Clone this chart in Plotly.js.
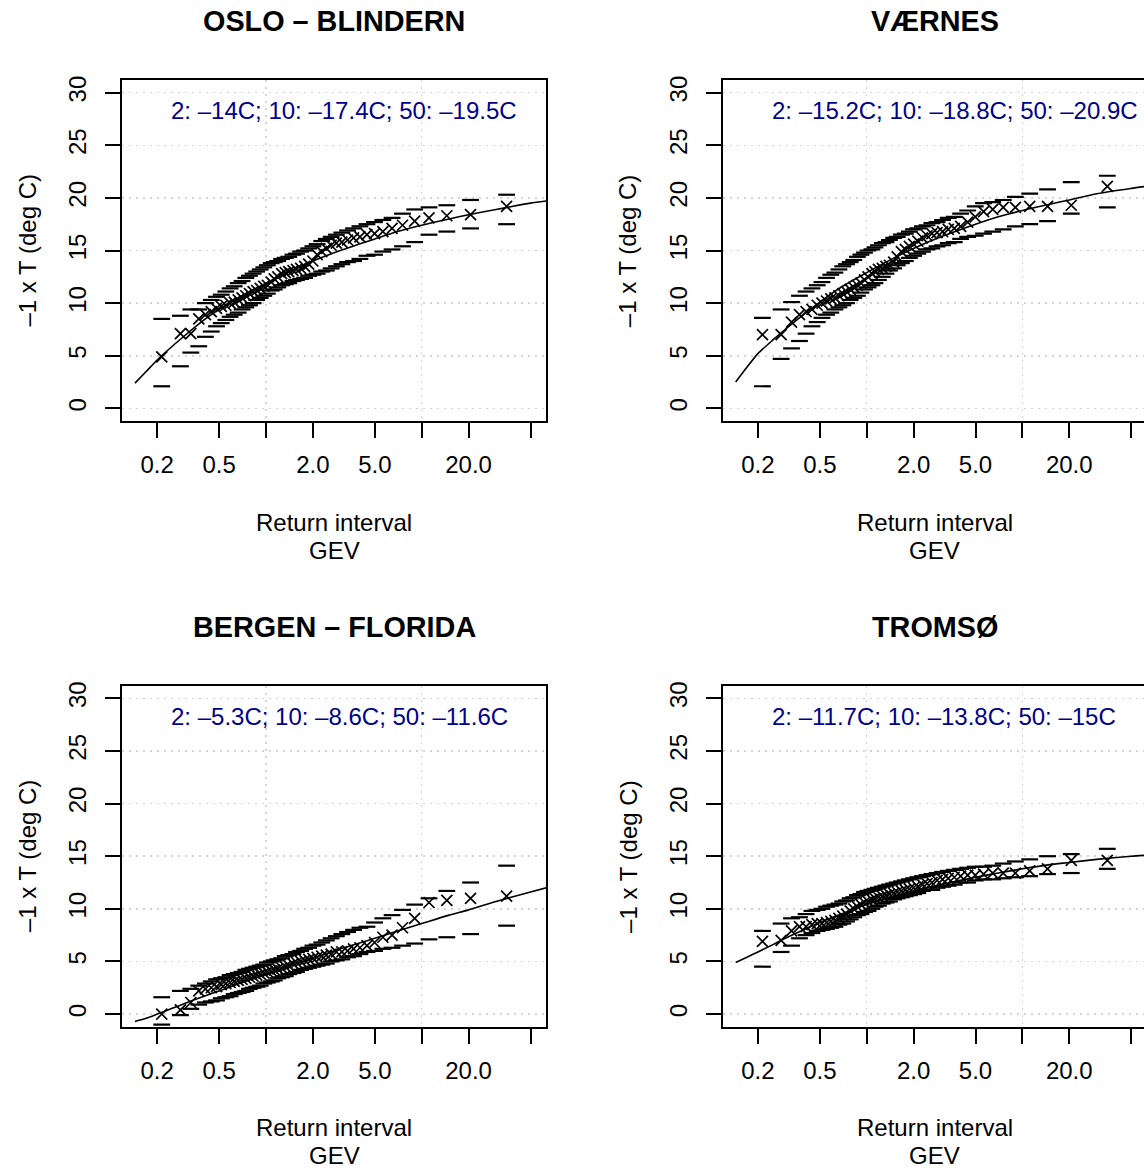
<!DOCTYPE html>
<html>
<head>
<meta charset="utf-8">
<script src="https://cdn.plot.ly/plotly-3.0.1.min.js"></script>
<style>
html,body{margin:0;padding:0;overflow:hidden;background:#fff;}
#chart{width:1200px;height:1169px;}
</style>
</head>
<body>
<div id="chart"></div>
<script>
// Return intervals (shared by all four stations)
const returnInterval = [0.214, 0.282, 0.329, 0.370, 0.408, 0.445, 0.481, 0.516, 0.552, 0.588, 0.625, 0.663, 0.702, 0.742, 0.783, 0.826, 0.871, 0.918, 0.968, 1.02, 1.08, 1.13, 1.19, 1.26, 1.33, 1.40, 1.49, 1.57, 1.67, 1.77, 1.88, 2.00, 2.13, 2.28, 2.44, 2.62, 2.83, 3.07, 3.34, 3.65, 4.01, 4.45, 4.98, 5.63, 6.45, 7.53, 9.01, 11.14, 14.5, 20.6, 35.1];

// OSLO - BLINDERN
const osloObs = [4.9, 7.1, 7.1, 8.5, 8.9, 9.2, 9.5, 9.7, 9.8, 10.0, 10.1, 10.3, 10.5, 10.7, 10.9, 11.1, 11.2, 11.4, 11.6, 11.7, 12.0, 12.3, 12.5, 12.8, 12.9, 13.0, 13.1, 13.2, 13.3, 13.5, 13.7, 14.0, 14.6, 14.9, 15.2, 15.5, 15.7, 15.8, 16.0, 16.2, 16.3, 16.5, 16.6, 16.8, 17.1, 17.4, 17.8, 18.1, 18.3, 18.4, 19.2];
const osloHi = [8.5, 8.8, 9.4, 9.4, 10.0, 10.3, 10.6, 10.8, 11.1, 11.4, 11.6, 11.9, 12.1, 12.4, 12.6, 12.8, 13.0, 13.2, 13.4, 13.6, 13.8, 13.9, 14.0, 14.2, 14.3, 14.4, 14.6, 14.7, 14.9, 15.0, 15.2, 15.4, 15.6, 15.9, 16.1, 16.3, 16.5, 16.7, 16.9, 17.1, 17.3, 17.5, 17.7, 17.9, 18.1, 18.5, 18.9, 19.1, 19.3, 19.8, 20.3];
const osloLo = [2.1, 4.0, 5.3, 5.9, 6.8, 7.3, 7.8, 8.1, 8.4, 8.7, 8.9, 9.1, 9.4, 9.6, 9.8, 10.0, 10.3, 10.5, 10.7, 10.9, 11.2, 11.3, 11.5, 11.7, 11.8, 11.9, 12.1, 12.2, 12.3, 12.4, 12.6, 12.7, 12.8, 13.0, 13.1, 13.3, 13.5, 13.7, 13.9, 14.0, 14.2, 14.5, 14.6, 14.9, 15.1, 15.4, 15.8, 16.5, 16.8, 17.1, 17.5];

// VÆRNES
const vaernesObs = [7.0, 7.0, 8.2, 8.9, 9.2, 9.4, 9.8, 10.0, 10.2, 10.4, 10.5, 10.7, 10.9, 11.1, 11.3, 11.5, 11.7, 11.9, 12.2, 12.5, 12.8, 13.0, 13.2, 13.3, 13.5, 13.6, 13.9, 14.4, 14.9, 15.1, 15.4, 15.6, 15.9, 16.2, 16.4, 16.6, 16.7, 16.8, 17.0, 17.1, 17.3, 17.7, 18.2, 18.7, 18.9, 19.1, 19.1, 19.2, 19.2, 19.3, 21.1];
const vaernesHi = [8.6, 9.4, 10.1, 10.7, 11.1, 11.4, 11.7, 12.0, 12.4, 12.7, 12.9, 13.2, 13.5, 13.7, 13.9, 14.1, 14.4, 14.6, 14.8, 15.0, 15.1, 15.3, 15.5, 15.7, 15.8, 16.0, 16.2, 16.3, 16.5, 16.6, 16.8, 17.0, 17.1, 17.3, 17.4, 17.6, 17.7, 17.9, 18.1, 18.2, 18.5, 18.8, 19.2, 19.5, 19.6, 19.8, 20.1, 20.4, 20.8, 21.5, 22.1];
const vaernesLo = [2.1, 4.7, 5.7, 6.4, 7.1, 7.8, 8.2, 8.6, 8.9, 9.1, 9.4, 9.6, 9.8, 10.0, 10.3, 10.5, 10.7, 11.0, 11.3, 11.5, 11.7, 11.9, 12.2, 12.5, 12.8, 13.1, 13.3, 13.6, 13.8, 14.0, 14.3, 14.5, 14.7, 14.9, 15.1, 15.2, 15.4, 15.5, 15.7, 15.8, 16.1, 16.3, 16.4, 16.6, 16.8, 17.0, 17.3, 17.5, 17.8, 18.5, 19.1];

// BERGEN - FLORIDA
const bergenObs = [0.0, 0.4, 1.1, 2.2, 2.4, 2.5, 2.6, 2.8, 2.9, 3.0, 3.1, 3.2, 3.3, 3.4, 3.5, 3.6, 3.7, 3.8, 3.9, 4.0, 4.1, 4.2, 4.3, 4.4, 4.5, 4.6, 4.8, 4.9, 5.0, 5.1, 5.2, 5.3, 5.4, 5.5, 5.6, 5.7, 5.9, 5.9, 6.0, 6.2, 6.3, 6.5, 6.8, 7.3, 7.5, 8.2, 9.1, 10.6, 10.8, 11.0, 11.2];
const bergenHi = [1.6, 2.2, 2.4, 2.7, 2.9, 3.1, 3.3, 3.4, 3.5, 3.7, 3.8, 3.9, 4.0, 4.2, 4.3, 4.4, 4.5, 4.6, 4.7, 4.9, 5.0, 5.1, 5.2, 5.3, 5.5, 5.6, 5.7, 5.9, 6.0, 6.2, 6.3, 6.5, 6.6, 6.8, 7.0, 7.2, 7.4, 7.6, 7.8, 8.0, 8.2, 8.3, 8.7, 9.1, 9.4, 9.9, 10.4, 11.0, 11.7, 12.5, 14.1];
const bergenLo = [-1.0, -0.1, 0.5, 0.9, 1.1, 1.2, 1.3, 1.5, 1.6, 1.7, 1.9, 2.0, 2.1, 2.2, 2.4, 2.5, 2.6, 2.7, 2.9, 3.0, 3.1, 3.2, 3.4, 3.5, 3.6, 3.8, 3.9, 4.0, 4.2, 4.3, 4.4, 4.5, 4.6, 4.7, 4.8, 5.0, 5.1, 5.2, 5.4, 5.5, 5.7, 5.9, 6.0, 6.2, 6.3, 6.5, 6.7, 7.1, 7.3, 7.6, 8.4];

// TROMSØ
const tromsoObs = [6.9, 7.0, 7.9, 8.3, 8.3, 8.5, 8.6, 8.6, 8.7, 8.8, 8.9, 9.1, 9.3, 9.5, 9.8, 10.0, 10.2, 10.4, 10.6, 10.7, 10.9, 11.0, 11.1, 11.2, 11.3, 11.4, 11.5, 11.6, 11.7, 11.8, 11.9, 12.0, 12.1, 12.3, 12.4, 12.5, 12.7, 12.8, 12.9, 13.0, 13.1, 13.2, 13.2, 13.3, 13.4, 13.4, 13.4, 13.6, 13.8, 14.6, 14.6];
const tromsoHi = [7.9, 8.6, 9.1, 9.2, 9.5, 9.8, 9.9, 10.0, 10.2, 10.3, 10.4, 10.5, 10.7, 10.8, 11.0, 11.1, 11.3, 11.4, 11.6, 11.7, 11.8, 11.9, 12.0, 12.1, 12.2, 12.3, 12.4, 12.5, 12.6, 12.7, 12.8, 12.9, 13.0, 13.1, 13.2, 13.3, 13.4, 13.5, 13.6, 13.7, 13.8, 13.9, 14.0, 14.0, 14.1, 14.3, 14.5, 14.7, 15.0, 15.2, 15.7];
const tromsoLo = [4.5, 5.9, 6.5, 7.2, 7.5, 7.7, 7.9, 8.0, 8.1, 8.2, 8.3, 8.5, 8.6, 8.8, 9.0, 9.2, 9.4, 9.5, 9.7, 9.8, 10.0, 10.2, 10.3, 10.5, 10.6, 10.7, 10.9, 11.0, 11.1, 11.2, 11.3, 11.4, 11.5, 11.7, 11.8, 11.8, 12.0, 12.1, 12.2, 12.3, 12.5, 12.5, 12.7, 12.8, 12.8, 12.9, 13.0, 13.1, 13.3, 13.4, 13.8];

// Fitted GEV return-level curves
const curveRI = [0.144, 0.17, 0.2, 0.25, 0.3, 0.4, 0.5, 0.7, 1, 1.5, 2, 3, 5, 7, 10, 15, 20, 30, 50, 63];
const osloFit = [2.4, 3.5, 4.6, 5.9, 6.9, 8.4, 9.4, 10.7, 11.9, 13.2, 14.0, 15.0, 16.1, 16.8, 17.4, 18.0, 18.4, 18.9, 19.5, 19.7];
const vaernesFit = [2.5, 3.9, 5.2, 6.5, 7.5, 9.0, 10.1, 11.6, 12.9, 14.3, 15.2, 16.3, 17.5, 18.2, 18.8, 19.4, 19.8, 20.4, 20.9, 21.1];
const bergenFit = [-0.7, -0.4, 0.0, 0.55, 1.0, 1.7, 2.2, 3.0, 3.8, 4.7, 5.3, 6.2, 7.2, 7.9, 8.6, 9.4, 9.9, 10.7, 11.6, 12.0];
const tromsoFit = [4.9, 5.4, 5.9, 6.6, 7.2, 8.05, 8.7, 9.55, 10.4, 11.2, 11.7, 12.3, 13.0, 13.4, 13.8, 14.2, 14.4, 14.7, 15.0, 15.1];

// Panel texts
const stationNames = ['OSLO – BLINDERN', 'VÆRNES', 'BERGEN – FLORIDA', 'TROMSØ'];
const returnLevelText = [
  '2: –14C; 10: –17.4C; 50: –19.5C',
  '2: –15.2C; 10: –18.8C; 50: –20.9C',
  '2: –5.3C; 10: –8.6C; 50: –11.6C',
  '2: –11.7C; 10: –13.8C; 50: –15C'
];
const xTickVals = [0.2, 0.5, 2, 5, 20, 50];
const xTickText = ['0.2', '0.5', '2.0', '5.0', '20.0', ''];
const xMinorVals = [1, 10];
const yTickVals = [0, 5, 10, 15, 20, 25, 30];
const yTickText = ['0', '5', '10', '15', '20', '25', '30'];
const xLabel = 'Return interval';
const subLabel = 'GEV';
const yLabel = '–1 x T (deg C)';

const panels = [
  {obs: osloObs, hi: osloHi, lo: osloLo, fit: osloFit},
  {obs: vaernesObs, hi: vaernesHi, lo: vaernesLo, fit: vaernesFit},
  {obs: bergenObs, hi: bergenHi, lo: bergenLo, fit: bergenFit},
  {obs: tromsoObs, hi: tromsoHi, lo: tromsoLo, fit: tromsoFit}
];

const W = 1200, H = 1169;
const FONT = 'Liberation Sans, Arial, Helvetica, sans-serif';
const colLeft = [122, 722.7];       // px of plot-box left edge
const boxW = 424;
const rowTop = [80, 685.7];          // px of plot-box top edge
const boxH = 341;

const traces = [];
const layout = {
  width: W, height: H,
  margin: {l: 0, r: 0, t: 0, b: 0},
  paper_bgcolor: '#fff', plot_bgcolor: '#fff',
  showlegend: false,
  font: {family: FONT, size: 24, color: '#000'},
  annotations: []
};

const gridColor = '#d3d3d3';
const gridDash = '2px,5px';

panels.forEach((p, i) => {
  const col = i % 2, row = Math.floor(i / 2);
  const n = i + 1;
  const xa = 'x' + (n === 1 ? '' : n), ya = 'y' + (n === 1 ? '' : n);
  const xKey = 'xaxis' + (n === 1 ? '' : n), yKey = 'yaxis' + (n === 1 ? '' : n);
  const x0 = colLeft[col], y0 = rowTop[row];

  layout[xKey] = {
    domain: [x0 / W, (x0 + boxW) / W],
    anchor: ya,
    type: 'log',
    range: [-0.9249, 1.7983],
    showline: true, mirror: true, linecolor: '#000', linewidth: 2,
    ticks: 'outside', ticklen: 15, tickwidth: 2, tickcolor: '#000',
    tickmode: 'array', tickvals: xTickVals, ticktext: xTickText,
    tickfont: {family: FONT, size: 24, color: '#000'},
    ticklabelstandoff: 6,
    showgrid: false, zeroline: false, fixedrange: true,
    minor: {tickmode: 'array', tickvals: xMinorVals, ticks: 'outside', ticklen: 15, tickwidth: 2, tickcolor: '#000',
            showgrid: true, gridcolor: gridColor, gridwidth: 1.5, griddash: gridDash}
  };
  layout[yKey] = {
    domain: [1 - (y0 + boxH) / H, 1 - y0 / H],
    anchor: xa,
    range: [-1.2, 31.2],
    showline: true, mirror: true, linecolor: '#000', linewidth: 2,
    ticks: 'outside', ticklen: 15, tickwidth: 2, tickcolor: '#000',
    tickmode: 'array', tickvals: yTickVals, ticktext: yTickText,
    tickangle: -90,
    tickfont: {family: FONT, size: 24, color: '#000'},
    ticklabelstandoff: 9,
    showgrid: true, gridcolor: gridColor, gridwidth: 1.5, griddash: gridDash,
    zeroline: false, fixedrange: true
  };

  traces.push({
    x: returnInterval, y: p.obs, xaxis: xa, yaxis: ya, type: 'scatter', mode: 'markers',
    marker: {symbol: 'x-thin', size: 11, color: '#000', line: {color: '#000', width: 1.7}},
    hoverinfo: 'skip'
  });
  traces.push({
    x: returnInterval, y: p.hi, xaxis: xa, yaxis: ya, type: 'scatter', mode: 'markers',
    marker: {symbol: 'line-ew', size: 12, color: '#000', line: {color: '#000', width: 2.2}},
    hoverinfo: 'skip'
  });
  traces.push({
    x: returnInterval, y: p.lo, xaxis: xa, yaxis: ya, type: 'scatter', mode: 'markers',
    marker: {symbol: 'line-ew', size: 12, color: '#000', line: {color: '#000', width: 2.2}},
    hoverinfo: 'skip'
  });
  traces.push({
    x: curveRI, y: p.fit, xaxis: xa, yaxis: ya, type: 'scatter', mode: 'lines',
    line: {color: '#000', width: 1.6, shape: 'spline', smoothing: 0.6},
    hoverinfo: 'skip'
  });

  const cx = (x0 + boxW / 2) / W;
  const titleY = y0 - 58.5;
  layout.annotations.push({
    xref: 'paper', yref: 'paper', x: cx, y: 1 - titleY / H,
    xanchor: 'center', yanchor: 'middle', showarrow: false,
    text: '<b>' + stationNames[i] + '</b>',
    font: {family: FONT, size: 28.8, color: '#000'}
  });
  layout.annotations.push({
    xref: 'paper', yref: 'paper', x: cx, y: 1 - (y0 + 442) / H,
    xanchor: 'center', yanchor: 'middle', showarrow: false,
    text: xLabel, font: {family: FONT, size: 24, color: '#000'}
  });
  layout.annotations.push({
    xref: 'paper', yref: 'paper', x: cx, y: 1 - (y0 + 470) / H,
    xanchor: 'center', yanchor: 'middle', showarrow: false,
    text: subLabel, font: {family: FONT, size: 24, color: '#000'}
  });
  layout.annotations.push({
    xref: 'paper', yref: 'paper', x: (x0 - 95) / W, y: 1 - (y0 + boxH / 2) / H,
    xanchor: 'center', yanchor: 'middle', showarrow: false, textangle: -90,
    text: yLabel, font: {family: FONT, size: 24, color: '#000'}
  });
  layout.annotations.push({
    xref: xa, yref: ya, x: Math.log10(0.25), y: 28.3,
    xanchor: 'left', yanchor: 'middle', showarrow: false, xshift: -3,
    text: returnLevelText[i], font: {family: FONT, size: 24, color: '#00008B'}
  });
});

Plotly.newPlot('chart', traces, layout, {staticPlot: true, displayModeBar: false});
</script>
</body>
</html>
